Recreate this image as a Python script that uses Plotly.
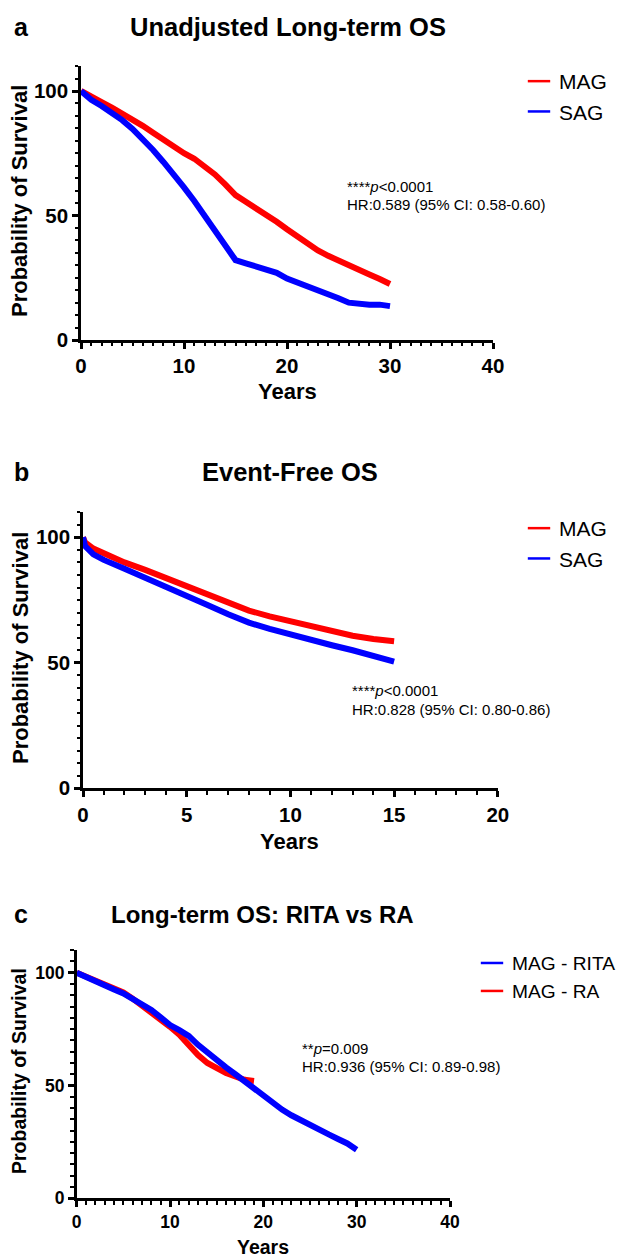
import plotly.graph_objects as go

# The page body has an 8px margin, so the figure is 8px smaller and all
# reference pixel positions are shifted by that offset.
OFF = 8
W, H = 624 - OFF, 1258 - OFF
FONT = "Liberation Sans"

# ---------------- Data ----------------
# Panel a: Unadjusted Long-term OS
a_years = list(range(0, 31))
a_mag = [100, 97.5, 95.5, 93.3, 91, 88.5, 86, 83.2, 80.3, 77.5, 75, 72.8, 70, 66.5, 62.5, 58.2,
         55.5, 53, 50.5, 47.5, 44.5, 41.5, 38.5, 36, 33.8, 31.8, 30, 28, 26.3, 24.5, 22.5]
a_sag = [100, 96.5, 94, 91.3, 88.3, 84.8, 80.7, 76.3, 71.5, 66.6, 61.3, 55.8, 50, 44.2, 38.8, 32.1,
         30.8, 29.5, 28.5, 27, 24.7, 23.2, 21.6, 20.2, 18.6, 16.8, 15, 14.5, 14.2, 14.2, 13.6]

# Panel b: Event-Free OS
b_years = [0, 0.1, 0.5, 1, 2, 3, 4, 5, 6, 7, 8, 9, 10, 11, 12, 13, 14, 15]
b_mag = [100, 98, 95.5, 93.5, 90, 87, 83.8, 80.5, 77, 73.8, 70.8, 68.5, 66.5, 64.5, 62.5, 60.8, 59.5, 58.6]
b_sag = [100, 96.5, 93.2, 91, 87.5, 84, 80.2, 76.5, 73, 69.3, 66, 63.5, 61.2, 59, 57, 55, 53, 50.5]

# Panel c: Long-term OS: RITA vs RA
c_rita_years = list(range(0, 31))
c_rita = [100, 98, 96, 94.3, 92.5, 90.8, 88.5, 86, 83.5, 80.2, 76.8, 74.5, 72, 68, 64.5, 61.3,
          58, 55, 51.8, 48.5, 45, 42, 39.3, 36.8, 34.5, 32.5, 30.5, 28.3, 26.3, 24.3, 21.5]
c_ra_years = list(range(0, 20))
c_ra = [100, 98.2, 96.5, 95, 93.3, 91.2, 88.5, 85.5, 82.5, 79.5, 76, 72.5, 68, 63.5, 60, 57.6,
        55.5, 54, 52.5, 52]

titles = ["Unadjusted Long-term OS", "Event-Free OS", "Long-term OS: RITA vs RA"]
letters = ["a", "b", "c"]
stats = [("****<i>p</i>&lt;0.0001", "HR:0.589 (95% CI: 0.58-0.60)"),
         ("****<i>p</i>&lt;0.0001", "HR:0.828 (95% CI: 0.80-0.86)"),
         ("**<i>p</i>=0.009", "HR:0.936 (95% CI: 0.89-0.98)")]

RED, BLUE = "#ff0000", "#0000ff"

# ---------------- Layout geometry (reference pixels) ----------------
def px_x(p):
    return (p - OFF) / W

def px_y(p):
    return 1 - (p - OFF) / H

def xd(p0, p1):
    return [px_x(p0), px_x(p1)]

def yd(top, bot):
    return [px_y(bot), px_y(top)]

panels = [
    dict(x=(81, 493), y=(66.1, 340), xmax=40, xdt=10, title_x=288, title_y=27, title_size=25.5,
         legend_x=519, legend_y=61, legend_size=21, tick_size=20.5, lab_size=22,
         ytitle=(20, 201), xtitle=(287.5, 392),
         stat_x=345, stat_y=(186.5, 205)),
    dict(x=(83, 497.8), y=(512.2, 788.3), xmax=20, xdt=5, title_x=290, title_y=472, title_size=25.5,
         legend_x=519, legend_y=508, legend_size=21, tick_size=20.5, lab_size=22,
         ytitle=(20, 648), xtitle=(289, 841),
         stat_x=350, stat_y=(690, 709)),
    dict(x=(76.7, 450), y=(950.1, 1198.3), xmax=40, xdt=10, title_x=262, title_y=914, title_size=24,
         legend_x=472, legend_y=944, legend_size=19.2, tick_size=17.5, lab_size=19.5,
         ytitle=(19, 1071), xtitle=(262.5, 1247),
         stat_x=300, stat_y=(1048, 1066.5)),
]

fig = go.Figure()

series = [
    [("MAG", a_years, a_mag, RED), ("SAG", a_years, a_sag, BLUE)],
    [("MAG", b_years, b_mag, RED), ("SAG", b_years, b_sag, BLUE)],
    [("MAG - RA", c_ra_years, c_ra, RED), ("MAG - RITA", c_rita_years, c_rita, BLUE)],
]
legend_order = [["MAG", "SAG"], ["MAG", "SAG"], ["MAG - RITA", "MAG - RA"]]

for i, p in enumerate(panels):
    suffix = "" if i == 0 else str(i + 1)
    xa, ya = "x" + suffix, "y" + suffix
    lg = "legend" + suffix
    for name, xs, ys, col in series[i]:
        fig.add_trace(go.Scatter(x=xs, y=ys, mode="lines", line=dict(color=col, width=6),
                                 xaxis=xa, yaxis=ya, showlegend=False, name=name, hoverinfo="skip"))
    colmap = {n: c for n, _, _, c in series[i]}
    for name in legend_order[i]:
        fig.add_trace(go.Scatter(x=[None], y=[None], mode="markers", name=name, xaxis=xa, yaxis=ya,
                                 legend=lg,
                                 marker=dict(symbol="line-ew-open", size=18, color=colmap[name],
                                             line=dict(width=2.5, color=colmap[name]))))

    axis_common = dict(showline=True, linecolor="black", linewidth=2.5, ticks="outside",
                       ticklen=6, tickwidth=2.5, tickcolor="black", showgrid=False, zeroline=False,
                       automargin=False,
                       tickfont=dict(family=FONT, size=p["tick_size"], color="black", weight="bold"))
    fig.layout["xaxis" + suffix] = dict(
        axis_common, domain=xd(*p["x"]), range=[0, p["xmax"]], dtick=p["xdt"], tick0=0,
        anchor=ya, minor=dict(dtick=1, ticks="outside", ticklen=3.5, tickwidth=2, tickcolor="black"))
    fig.layout["yaxis" + suffix] = dict(
        axis_common, domain=yd(*p["y"]), range=[0, 110], dtick=50, tick0=0, anchor=xa,
        minor=dict(dtick=5, ticks="outside", ticklen=3.5, tickwidth=2, tickcolor="black"))
    fig.layout[lg] = dict(x=px_x(p["legend_x"]), y=px_y(p["legend_y"]), xanchor="left", yanchor="top",
                          bgcolor="rgba(0,0,0,0)",
                          font=dict(family=FONT, size=p["legend_size"], color="black"), itemwidth=30,
                          tracegroupgap=0)

    lab_font = dict(family=FONT, size=p["lab_size"], color="black", weight="bold")
    fig.add_annotation(text="Probability of Survival", xref="paper", yref="paper",
                       x=px_x(p["ytitle"][0]), y=px_y(p["ytitle"][1]), textangle=-90,
                       xanchor="center", yanchor="middle", showarrow=False, font=lab_font)
    fig.add_annotation(text="Years", xref="paper", yref="paper",
                       x=px_x(p["xtitle"][0]), y=px_y(p["xtitle"][1]),
                       xanchor="center", yanchor="middle", showarrow=False, font=lab_font)
    fig.add_annotation(text=titles[i], xref="paper", yref="paper", x=px_x(p["title_x"]),
                       y=px_y(p["title_y"]), xanchor="center", yanchor="middle", showarrow=False,
                       font=dict(family=FONT, size=p["title_size"], color="black", weight="bold"))
    fig.add_annotation(text=letters[i], xref="paper", yref="paper", x=px_x(12),
                       y=px_y(p["title_y"]), xanchor="left", yanchor="middle", showarrow=False,
                       font=dict(family=FONT, size=25, color="black", weight="bold"))
    for line_txt, yy in zip(stats[i], p["stat_y"]):
        fig.add_annotation(text=line_txt, xref="paper", yref="paper", x=px_x(p["stat_x"]),
                           y=px_y(yy), xanchor="left", yanchor="middle", showarrow=False,
                           font=dict(family=FONT, size=15, color="black"))

fig.update_layout(width=W, height=H, margin=dict(l=0, r=0, t=0, b=0),
                  paper_bgcolor="white", plot_bgcolor="white",
                  font=dict(family=FONT, color="black"))

fig.write_html("out.html")
